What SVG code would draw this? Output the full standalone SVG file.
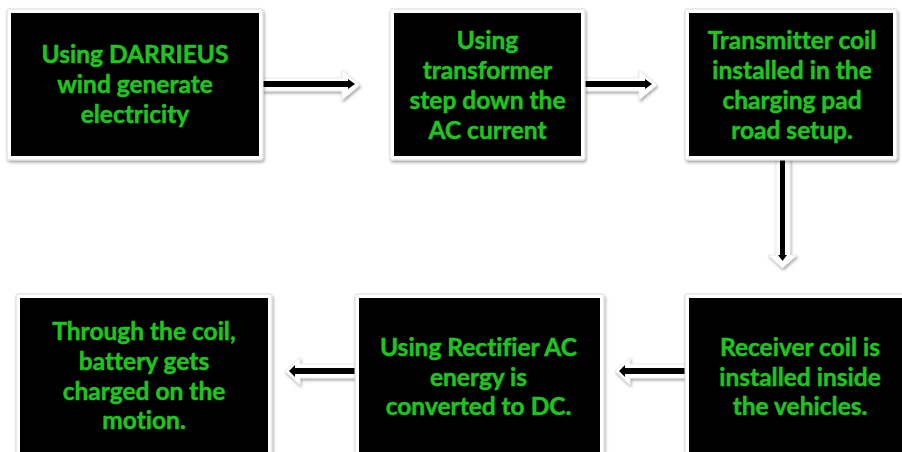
<svg xmlns="http://www.w3.org/2000/svg" width="902" height="452" viewBox="0 0 902 452">
<defs>
<filter id="sh" x="-20%" y="-20%" width="140%" height="140%">
<feDropShadow dx="1" dy="2" stdDeviation="1.5" flood-color="#000" flood-opacity="0.35"/>
</filter>
<style>
.frame{fill:#fff;stroke:#d9d9d9;stroke-width:1;filter:url(#sh)}
.box{fill:#000}
.t{font-family:Lato,"Open Sans","Liberation Sans",sans-serif;font-weight:bold;font-size:24.5px;fill:#1fc41f;stroke:#1fc41f;stroke-width:0.5;text-anchor:middle;font-variant-ligatures:none}
.aw{fill:#fff;stroke:#e6e6e6;stroke-width:0.8;filter:url(#sh)}
.ab{fill:#000}
</style>
</defs>
<rect width="902" height="452" fill="#fff"/>
<g id="connectors">
<g id="a1"><polygon class="aw" points="262,78 342,78 342,70 360,85 342,100 342,91 262,91"/><rect class="ab" x="263" y="81" width="86" height="6"/><polygon class="ab" points="348,79 355,84 348,89"/></g>
<g id="a2"><polygon class="aw" points="584,78 639,78 639,70 657,85 639,100 639,91 584,91"/><rect class="ab" x="585" y="81" width="61" height="6"/><polygon class="ab" points="645,79 652,84 645,89"/></g>
<g id="a3"><polygon class="aw" points="776,159 790,159 790,255 797,255 782.5,268 768,255 776,255"/><rect class="ab" x="780" y="160" width="5" height="96"/><polygon class="ab" points="778,255 787,255 782.5,261"/></g>
<g id="a4"><polygon class="aw" points="690,364 630,364 630,357 615,371 630,385 630,378 690,378"/><rect class="ab" x="624" y="368" width="62" height="6"/><polygon class="ab" points="625,365 619,371 625,377"/></g>
<g id="a5"><polygon class="aw" points="360,364 300,364 300,357 285,371 300,385 300,378 360,378"/><rect class="ab" x="294" y="368" width="62" height="6"/><polygon class="ab" points="295,365 289,371 295,377"/></g>
</g>
<g id="n1"><rect class="frame" x="7" y="9" width="256" height="151" rx="2"/><rect class="box" x="11" y="13" width="248" height="143"/>
<text class="t"><tspan x="135" y="63">Using DARRIEUS</tspan><tspan x="135" y="93">wind generate</tspan><tspan x="135" y="123">electricity</tspan></text></g>
<g id="n2"><rect class="frame" x="390" y="9" width="195" height="151" rx="2"/><rect class="box" x="394" y="13" width="187" height="143"/>
<text class="t"><tspan x="487.5" y="49">Using</tspan><tspan x="487.5" y="79">transformer</tspan><tspan x="487.5" y="109">step down the</tspan><tspan x="487.5" y="139">AC current</tspan></text></g>
<g id="n3"><rect class="frame" x="685" y="9" width="212" height="151" rx="2"/><rect class="box" x="689" y="13" width="204" height="143"/>
<text class="t"><tspan x="792" y="49">Transmitter coil</tspan><tspan x="792" y="79">installed in the</tspan><tspan x="792" y="109">charging pad</tspan><tspan x="792" y="139">road setup.</tspan></text></g>
<g id="n4"><rect class="frame" x="685" y="294" width="240" height="170" rx="2"/><rect class="box" x="689" y="298" width="232" height="160"/>
<text class="t"><tspan x="800" y="356">Receiver coil is</tspan><tspan x="800" y="386">installed inside</tspan><tspan x="800" y="415">the vehicles.</tspan></text></g>
<g id="n5"><rect class="frame" x="355" y="294" width="249" height="170" rx="2"/><rect class="box" x="359" y="298" width="241" height="160"/>
<text class="t"><tspan x="478.5" y="356">Using Rectifier AC</tspan><tspan x="478.5" y="386">energy is</tspan><tspan x="478.5" y="415">converted to DC.</tspan></text></g>
<g id="n6"><rect class="frame" x="16" y="294" width="256" height="170" rx="2"/><rect class="box" x="20" y="298" width="248" height="160"/>
<text class="t"><tspan x="144" y="340">Through the coil,</tspan><tspan x="144" y="370">battery gets</tspan><tspan x="144" y="400">charged on the</tspan><tspan x="144" y="429">motion.</tspan></text></g>
</svg>
